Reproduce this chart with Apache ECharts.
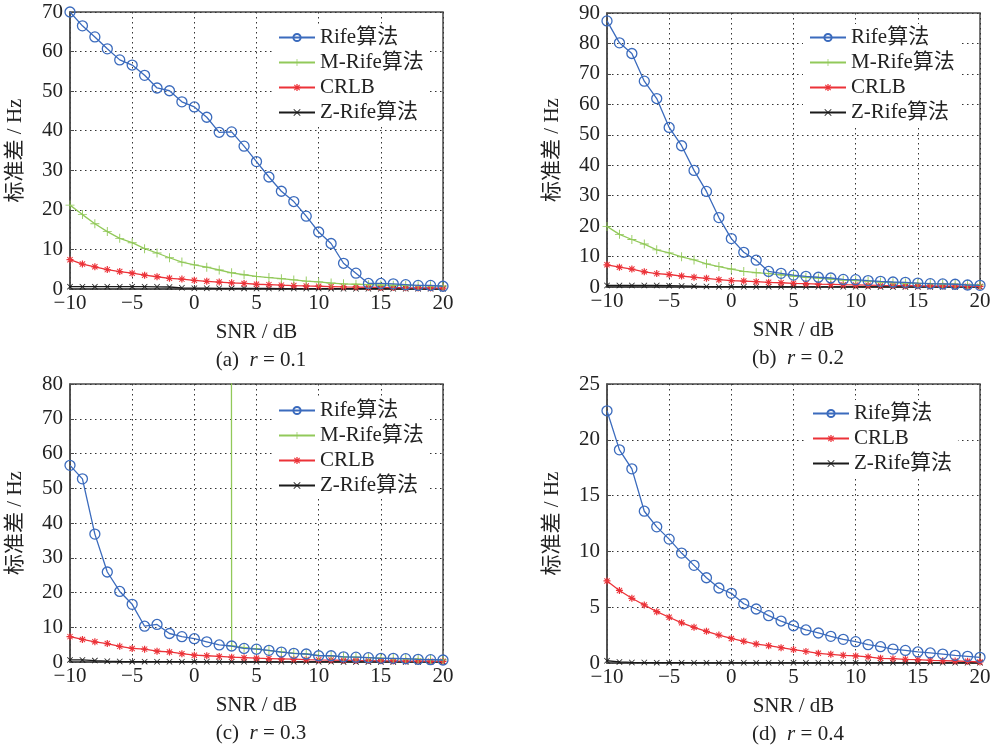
<!DOCTYPE html>
<html lang="zh">
<head>
    <meta charset="UTF-8">
    <title>标准差 vs SNR</title>
    <style>
        body, html {
            margin: 0;
            width: 100%;
            height: 100%;
            background: #fff;
        }
        #container {
            width: 998px;
            height: 746px;
        }
    </style>
    <script src="https://cdn.jsdelivr.net/npm/echarts@6/dist/echarts.min.js"></script>
</head>
<body>
<div id="container"></div>
<script type="text/javascript">
    // SNR / dB
    var snr = [-10, -9, -8, -7, -6, -5, -4, -3, -2, -1, 0, 1, 2, 3, 4, 5, 6, 7, 8, 9, 10,
        11, 12, 13, 14, 15, 16, 17, 18, 19, 20];

    // (a) r = 0.1
    var rifeA = [70, 66.5, 63.7, 60.7, 57.9, 56.6, 54.0, 50.8, 50.1, 47.3, 46.0, 43.4, 39.6, 39.7, 36.1, 32.2,
        28.3, 24.7, 22.1, 18.4, 14.4, 11.5, 6.5, 4.0, 1.4, 1.4, 1.3, 1.1, 0.9, 0.9, 0.7];
    var mrifeA = [21.2, 18.8, 16.5, 14.5, 12.8, 11.7, 10.2, 9.1, 7.9, 6.8, 6.1, 5.5, 4.8, 4.1, 3.6, 3.2,
        2.9, 2.6, 2.3, 2.0, 1.8, 1.5, 1.3, 1.2, 1.1, 1.0, 0.95, 0.9, 0.85, 0.8, 0.75];
    var crlbA = [7.4, 6.3, 5.6, 4.9, 4.4, 4.0, 3.5, 3.1, 2.7, 2.5, 2.2, 1.95, 1.75, 1.55, 1.4, 1.2,
        1.1, 0.98, 0.87, 0.78, 0.7, 0.62, 0.55, 0.49, 0.44, 0.39, 0.35, 0.31, 0.28, 0.25, 0.23];
    var zrifeA = [0.6, 0.6, 0.6, 0.6, 0.6, 0.6, 0.6, 0.55, 0.5, 0.3, 0.2, 0.2, 0.18, 0.16, 0.15, 0.14,
        0.13, 0.12, 0.11, 0.1, 0.1, 0.09, 0.08, 0.08, 0.07, 0.07, 0.06, 0.06, 0.05, 0.05, 0.05];

    // (b) r = 0.2
    var rifeB = [87.4, 80.2, 76.7, 67.6, 61.9, 52.4, 46.4, 38.3, 31.4, 22.8, 15.9, 11.4, 8.8, 5.1, 4.5, 3.9,
        3.5, 3.2, 2.96, 2.5, 2.4, 2.1, 1.86, 1.64, 1.53, 1.3, 1.1, 1.0, 0.9, 0.66, 0.55];
    var mrifeB = [19.9, 17.3, 15.6, 14.1, 12.2, 11.2, 9.9, 8.9, 7.6, 6.7, 5.9, 5.1, 4.7, 4.4, 4.0, 3.6,
        3.2, 2.96, 2.6, 2.3, 2.1, 1.9, 1.64, 1.42, 1.3, 1.2, 1.1, 1.0, 0.9, 0.8, 0.7];
    var crlbB = [7.3, 6.5, 5.9, 5.0, 4.4, 4.1, 3.6, 3.2, 2.85, 2.4, 2.1, 1.95, 1.75, 1.55, 1.4, 1.2,
        1.1, 0.95, 0.85, 0.75, 0.68, 0.6, 0.53, 0.47, 0.42, 0.37, 0.33, 0.29, 0.26, 0.23, 0.2];
    var zrifeB = [0.5, 0.5, 0.5, 0.5, 0.5, 0.45, 0.35, 0.25, 0.15, 0.1, 0.1, 0.09, 0.09, 0.08, 0.08, 0.07,
        0.07, 0.06, 0.06, 0.05, 0.05, 0.05, 0.04, 0.04, 0.04, 0.03, 0.03, 0.03, 0.03, 0.02, 0.02];

    // (c) r = 0.3  (M-Rife 在 3 dB 以下发散, 超出坐标范围)
    var rifeC = [56.6, 52.7, 36.8, 25.9, 20.3, 16.6, 10.3, 10.8, 8.2, 7.3, 6.7, 5.8, 4.9, 4.6, 3.9, 3.7,
        3.35, 2.87, 2.5, 2.3, 1.8, 1.8, 1.5, 1.4, 1.25, 1.05, 1.05, 0.96, 0.77, 0.67, 0.57];
    var mrifeC = [5000, 5000, 5000, 5000, 5000, 5000, 5000, 5000, 5000, 5000, 5000, 5000, 5000, 4.6, 4.1, 3.8,
        3.3, 2.9, 2.5, 2.3, 1.9, 1.8, 1.5, 1.4, 1.25, 1.1, 1.0, 0.9, 0.8, 0.7, 0.6];
    var crlbC = [7.3, 6.5, 5.8, 5.3, 4.5, 3.9, 3.7, 3.1, 2.9, 2.4, 1.95, 1.8, 1.6, 1.4, 1.25, 1.1,
        1.0, 0.9, 0.8, 0.7, 0.62, 0.55, 0.5, 0.44, 0.4, 0.35, 0.31, 0.28, 0.25, 0.22, 0.2];
    var zrifeC = [0.6, 0.6, 0.4, 0.25, 0.15, 0.1, 0.1, 0.08, 0.08, 0.07, 0.07, 0.06, 0.06, 0.06, 0.05, 0.05,
        0.05, 0.05, 0.04, 0.04, 0.04, 0.04, 0.03, 0.03, 0.03, 0.03, 0.03, 0.02, 0.02, 0.02, 0.02];

    // (d) r = 0.4
    var rifeD = [22.6, 19.1, 17.4, 13.6, 12.2, 11.1, 9.85, 8.75, 7.64, 6.72, 6.24, 5.31, 4.84, 4.24, 3.76, 3.34,
        2.96, 2.69, 2.39, 2.12, 1.91, 1.64, 1.46, 1.25, 1.13, 0.99, 0.9, 0.8, 0.69, 0.6, 0.51];
    var crlbD = [7.35, 6.5, 5.8, 5.2, 4.6, 4.1, 3.6, 3.2, 2.84, 2.5, 2.2, 1.94, 1.7, 1.55, 1.37, 1.2,
        1.04, 0.87, 0.78, 0.69, 0.63, 0.54, 0.42, 0.39, 0.33, 0.3, 0.24, 0.21, 0.18, 0.15, 0.09];
    var zrifeD = [0.2, 0.1, 0.05, 0.04, 0.03, 0.03, 0.03, 0.02, 0.02, 0.02, 0.02, 0.02, 0.02, 0.02, 0.02, 0.02,
        0.02, 0.02, 0.02, 0.02, 0.02, 0.02, 0.02, 0.02, 0.02, 0.02, 0.02, 0.02, 0.02, 0.02, 0.02];

    var names = ['Rife算法', 'M-Rife算法', 'CRLB', 'Z-Rife算法'];
    var captions = ['(a)  {i|r} = 0.1', '(b)  {i|r} = 0.2', '(c)  {i|r} = 0.3', '(d)  {i|r} = 0.4'];
    var yMax = [70, 90, 80, 25];
    var yStep = [10, 10, 10, 5];

    var panels = [
        {left: 70, top: 12, h: 277, data: [rifeA, mrifeA, crlbA, zrifeA], lg: [272, 24]},
        {left: 607, top: 13, h: 274, data: [rifeB, mrifeB, crlbB, zrifeB], lg: [803, 24]},
        {left: 70, top: 384, h: 278, data: [rifeC, mrifeC, crlbC, zrifeC], lg: [272, 397]},
        {left: 607, top: 384, h: 279, data: [rifeD, null, crlbD, zrifeD], lg: [806, 400]}
    ];

    var serif = "'Liberation Serif', 'Times New Roman', Tinos, serif, 'Noto Sans CJK SC'";
    var frame = '#4a4a4a';
    var colors = ['#3b6bbd', '#92c95a', '#ec3238', '#1a1a1a'];
    var plus = 'path://M-0.5,-5H0.5V5H-0.5Z M-5,-0.5H5V0.5H-5Z';
    var star = 'path://M-0.7,-4H0.7V4H-0.7Z M-4,-0.7H4V0.7H-4Z M-2.6,-3.4L3.4,2.6L2.6,3.4L-3.4,-2.6Z M2.6,-3.4L3.4,-2.6L-2.6,3.4L-3.4,2.6Z';
    var cross = 'path://M-3.6,-4.4L4.4,3.6L3.6,4.4L-4.4,-3.6Z M3.6,-4.4L4.4,-3.6L-3.6,4.4L-4.4,3.6Z';
    var symbols = ['circle', plus, star, cross];
    var symSize = [10, 9, 7, 6];

    function pairs(arr) {
        return snr.map(function (x, i) { return [x, arr[i]]; });
    }

    var grids = [], xAxes = [], yAxes = [], series = [], legends = [], titles = [];

    panels.forEach(function (p, k) {
        grids.push({
            left: p.left, top: p.top, width: 373, height: p.h,
            show: true, borderColor: frame, borderWidth: 1.5
        });
        xAxes.push({
            type: 'value', gridIndex: k, min: -10, max: 20, interval: 5,
            name: 'SNR / dB', nameLocation: 'middle', nameGap: 33,
            nameTextStyle: {fontFamily: serif, fontSize: 21, color: '#222'},
            axisLine: {onZero: false, lineStyle: {color: frame, width: 1.5}},
            axisTick: {inside: true, length: 4, lineStyle: {color: frame}},
            axisLabel: {
                fontFamily: serif, fontSize: 21, color: '#222', margin: 4,
                formatter: function (v) { return v < 0 ? '\u2212' + Math.abs(v) : '' + v; }
            },
            splitLine: {show: true, lineStyle: {color: '#333', width: 1, type: [1.5, 3.5]}}
        });
        yAxes.push({
            type: 'value', gridIndex: k, min: 0, max: yMax[k], interval: yStep[k],
            name: '标准差 / Hz', nameLocation: 'middle', nameGap: 44,
            nameTextStyle: {fontFamily: serif, fontSize: 21, color: '#222'},
            axisLine: {show: true, onZero: false, lineStyle: {color: frame, width: 1.5}},
            axisTick: {show: true, inside: true, length: 4, lineStyle: {color: frame}},
            axisLabel: {fontFamily: serif, fontSize: 21, color: '#222', margin: 7},
            splitLine: {show: true, lineStyle: {color: '#333', width: 1, type: [1.5, 3.5]}}
        });

        var lgNames = [];
        p.data.forEach(function (arr, s) {
            if (!arr) return;
            lgNames.push(names[s]);
            series.push({
                name: names[s], type: 'line', xAxisIndex: k, yAxisIndex: k,
                data: pairs(arr), clip: true, animation: false,
                symbol: symbols[s], symbolSize: symSize[s], symbolKeepAspect: true,
                showAllSymbol: true, z: 10 - s,
                lineStyle: {color: colors[s], width: 1.3},
                itemStyle: s === 0
                    ? {color: 'rgba(255,255,255,0)', borderColor: colors[s], borderWidth: 1.3}
                    : {color: colors[s], borderWidth: 0}
            });
        });

        legends.push({
            data: lgNames, orient: 'vertical', left: p.lg[0], top: p.lg[1],
            backgroundColor: '#fff', padding: [3, 6], itemGap: 4,
            itemWidth: 36, itemHeight: 9,
            textStyle: {fontFamily: serif, fontSize: 21, color: '#222'}
        });

        titles.push({
            text: captions[k], left: p.left + 186, textAlign: 'center',
            top: p.top + p.h + 56,
            textStyle: {
                fontFamily: serif, fontSize: 21, fontWeight: 'normal', color: '#222',
                rich: {i: {fontFamily: serif, fontSize: 21, fontStyle: 'italic', color: '#222'}}
            }
        });
    });

    var myChart = echarts.init(document.getElementById('container'));
    myChart.setOption({
        animation: false,
        title: titles,
        grid: grids,
        xAxis: xAxes,
        yAxis: yAxes,
        legend: legends,
        series: series
    });
</script>
</body>
</html>
